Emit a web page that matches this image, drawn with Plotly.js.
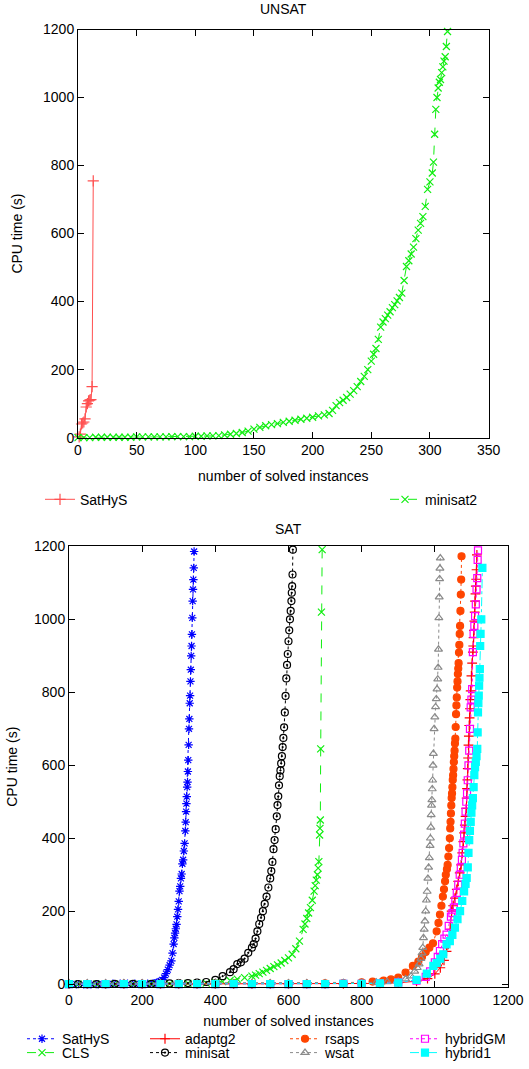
<!DOCTYPE html>
<html>
<head>
<meta charset="utf-8">
<script src="https://cdn.plot.ly/plotly-3.0.1.min.js"></script>
<style>
html,body{margin:0;padding:0;background:#fff;}
#chart{width:529px;height:1069px;}
</style>
</head>
<body>
<div id="chart"></div>
<script>
// ---------- UNSAT (top chart) ----------
var unsatSathysX = [1,2,3,4,5,6,7,8,9,10,11,12,13];
var unsatSathysY = [2,10,40,43,46,55,90,100,108,110,112,150,755];

var unsatMinisat2X = [
  0,5,10,15,20,25,30,35,40,45,
  50,55,60,65,70,75,80,85,90,95,
  100,105,110,115,120,125,130,135,140,145,
  150,155,160,165,170,175,180,185,190,195,
  200,205,210,214,217,220,223,226,229,232,
  235,238,241,244,247,250,252,254,256,258,
  260,262,264,266,268,270,272,274,276,278,
  280,282,284,286,288,290,292,294,296,298,
  300,302,303,304,305,306,307,308,309,310,
  311,312,313,314,315];
var unsatMinisat2Y = [
  0,0,0,1,1,1,1,1,1,1,
  2,2,2,2,2,2,3,3,3,3,
  4,4,5,5,6,8,10,12,15,19,
  25,30,35,38,41,45,48,51,54,57,
  60,64,67,71,80,94,103,110,118,128,
  138,150,165,180,200,225,245,262,289,325,
  340,350,360,370,382,391,402,412,425,462,
  503,520,540,560,585,610,630,650,680,730,
  752,778,810,892,965,1000,1028,1045,1053,1073,
  1090,1107,1120,1150,1194];

// ---------- SAT (bottom chart) ----------
var satSathysX = [
  0,20,40,60,80,100,120,140,160,180,
  200,215,230,235,240,245,250,255,260,265,
  270,275,280,283,286,288,290,292,294,296,
  298,300,302,304,306,308,310,312,314,316,
  318,319,320,321,322,323,324,325,326,327,
  328,329,330,331,332,333,334,335,336,337,
  338,339,340,341,342];
var satSathysY = [
  0,0,0,0,0,1,1,1,1,1,
  1,1,2,3,4,6,8,12,18,29,
  40,52,64,85,110,127,140,152,164,185,
  205,227,255,268,290,302,330,341,365,386,
  420,444,473,495,514,540,554,583,614,656,
  700,727,770,791,830,862,900,927,959,1004,
  1050,1082,1109,1141,1186];

var satClsX = [
  0,25,50,75,100,125,150,175,200,225,
  250,275,300,325,350,375,400,420,440,460,
  480,500,510,520,530,540,550,560,570,580,
  590,600,610,620,630,640,645,650,655,660,
  665,670,673,676,679,681,683,685,686,687,
  688,690,692];
var satClsY = [
  0,0,0,0,0,0,0,0,1,1,
  1,1,1,2,2,3,5,7,10,14,
  18,22,25,29,33,38,43,48,53,58,
  65,72,82,97,118,150,165,180,195,210,
  230,255,270,285,300,318,336,409,427,450,
  645,1020,1191];

var satAdaptg2X = [
  0,50,100,150,200,250,300,350,400,450,
  500,550,600,650,700,750,800,850,900,950,
  980,1000,1015,1025,1032,1037,1042,1046,1050,1055,
  1060,1064,1068,1072,1075,1078,1080,1082,1084,1086,
  1087,1088,1089,1090,1091,1092,1093,1094,1095,1096,
  1097,1098,1100,1102,1104,1105,1106,1107,1108,1109,
  1110,1111,1112,1113,1114,1115];
var satAdaptg2Y = [
  0,0,0,0,0,0,0,0,0,0,
  0,0,0,1,1,1,2,2,4,8,
  15,28,45,65,90,109,150,200,215,236,
  260,282,305,327,360,391,415,436,460,482,
  510,536,560,591,620,655,680,709,730,755,
  780,804,845,880,910,927,950,970,995,1020,
  1050,1070,1091,1110,1136,1177];

var satMinisatX = [
  0,25,50,75,100,125,150,175,200,225,
  250,275,300,325,350,375,400,420,440,450,
  460,470,480,490,500,505,510,515,520,525,
  530,535,540,545,550,553,556,559,562,565,
  568,570,572,574,576,578,580,582,584,586,
  588,590,592,594,596,598,600,602,604,606,
  608,609,610,611,612];
var satMinisatY = [
  0,0,0,0,0,1,1,1,1,1,
  2,2,3,3,4,6,12,22,33,41,
  55,60,70,86,100,110,125,145,165,182,
  200,220,240,265,290,310,335,370,395,425,
  460,491,515,545,570,586,605,625,650,675,
  704,745,790,838,875,905,940,970,1000,1023,
  1050,1073,1091,1123,1191];

var satRsapsX = [
  0,50,100,150,200,250,300,350,400,450,
  500,550,600,650,700,750,800,830,860,880,
  900,920,940,955,965,975,985,995,1005,1010,
  1014,1018,1022,1025,1028,1030,1033,1035,1037,1039,
  1041,1042,1043,1044,1045,1046,1047,1048,1049,1050,
  1051,1052,1053,1054,1055,1056,1057,1058,1059,1060,
  1061,1062,1063,1064,1065,1066,1067,1068,1069,1070,
  1071,1072,1073];
var satRsapsY = [
  0,0,0,0,0,0,0,0,0,0,
  0,1,1,1,2,3,5,7,10,13,
  18,32,50,62,75,88,100,112,145,168,
  191,215,240,260,282,300,315,327,350,373,
  400,427,445,468,490,510,523,540,560,573,
  590,609,625,640,660,673,705,740,764,786,
  813,830,850,865,880,909,930,960,982,1023,
  1068,1109,1173];

var satWsatX = [
  0,50,100,150,200,250,300,350,400,450,
  500,550,600,650,700,750,800,840,870,900,
  920,935,945,952,957,962,965,967,969,971,
  973,975,977,979,981,983,985,987,988,989,
  990,991,992,993,994,995,996,998,1000,1002,
  1004,1006,1008,1009,1010,1011,1012,1013,1014,1015];
var satWsatY = [
  3,3,3,3,3,3,3,3,3,3,
  3,3,3,3,3,4,4,5,6,8,
  14,22,35,45,55,70,85,100,127,150,
  173,200,230,254,290,320,346,380,400,430,
  464,490,505,535,559,600,632,700,732,760,
  782,809,836,868,918,1004,1061,1111,1140,1168];

var satHybridGMX = [
  0,50,100,150,200,250,300,350,400,450,
  500,550,600,650,700,750,800,850,900,950,
  975,987,1000,1008,1014,1020,1026,1032,1038,1044,
  1048,1052,1056,1060,1064,1068,1071,1074,1076,1078,
  1080,1082,1084,1086,1088,1090,1092,1094,1096,1098,
  1100,1102,1104,1106,1108,1110,1112,1114,1116,1117,
  1118];
var satHybridGMY = [
  0,0,0,0,0,0,0,0,0,0,
  0,0,0,0,0,1,1,2,5,10,
  20,35,60,75,91,110,125,136,160,185,
  195,210,230,250,273,300,320,341,360,386,
  410,440,473,500,523,559,600,640,700,759,
  780,809,910,960,982,1009,1041,1082,1113,1163,
  1189];

var satHybrid1X = [
  0,50,100,150,200,250,300,350,400,450,
  500,550,600,650,700,750,800,850,900,950,
  978,996,1005,1015,1023,1032,1041,1048,1055,1062,
  1069,1075,1080,1084,1087,1090,1092,1094,1096,1098,
  1100,1102,1104,1106,1108,1110,1112,1114,1116,1117,
  1118,1119,1120,1121,1122,1123,1124,1125,1127,1130];
var satHybrid1Y = [
  0,0,0,0,0,0,0,0,0,0,
  0,0,0,0,0,1,1,2,4,12,
  29,50,58,70,82,109,118,135,155,178,
  200,228,254,275,291,320,360,395,420,445,
  470,490,510,540,573,595,609,625,645,690,
  745,770,791,818,840,864,927,960,1000,1141];

var FONT = 'Liberation Sans, Arial, sans-serif';
var FS = 14;

function series(name, xs, ys, xa, ya, color, dash, symbol, size, legendId) {
  return {
    type: 'scatter', mode: 'lines+markers', name: name,
    x: xs, y: ys, xaxis: xa, yaxis: ya,
    line: {color: color, width: 1, dash: dash},
    marker: {symbol: symbol, size: size, color: color, line: {color: color, width: 1.2}},
    cliponaxis: false,
    legend: legendId, showlegend: true, hoverinfo: 'skip'
  };
}

var traces = [
  series('SatHyS', unsatSathysX, unsatSathysY, 'x', 'y', 'rgb(255,80,80)', 'solid', 'cross-thin-open', 8, 'legend'),
  series('minisat2', unsatMinisat2X, unsatMinisat2Y, 'x', 'y', '#11ee11', 'dash', 'x-thin-open', 7, 'legend2'),

  series('SatHyS', satSathysX, satSathysY, 'x2', 'y2', '#0000ff', 'dot', 'asterisk-open', 7, 'legend3'),
  series('CLS', satClsX, satClsY, 'x2', 'y2', '#11ee11', 'dash', 'x-thin-open', 7, 'legend4'),
  series('adaptg2', satAdaptg2X, satAdaptg2Y, 'x2', 'y2', '#ff0000', 'solid', 'cross-thin-open', 7, 'legend5'),
  series('minisat', satMinisatX, satMinisatY, 'x2', 'y2', '#000000', 'dot', 'circle-open-dot', 7, 'legend6'),
  series('rsaps', satRsapsX, satRsapsY, 'x2', 'y2', '#ff4500', 'dot', 'circle', 7, 'legend7'),
  series('wsat', satWsatX, satWsatY, 'x2', 'y2', '#8a8a8a', 'dot', 'triangle-up-open', 7, 'legend8'),
  series('hybridGM', satHybridGMX, satHybridGMY, 'x2', 'y2', '#ff00ff', 'dot', 'square-open', 7, 'legend9'),
  series('hybrid1', satHybrid1X, satHybrid1Y, 'x2', 'y2', '#00ffff', 'dashdot', 'square', 7, 'legend10')
];

function ax(domain, range, dtick, anchor, title, standoff) {
  return {
    domain: domain, range: range, dtick: dtick, tick0: 0, anchor: anchor,
    ticks: 'inside', ticklen: 6, tickwidth: 1, tickcolor: '#000',
    mirror: 'allticks', showline: true, linecolor: '#000', linewidth: 1,
    showgrid: false, zeroline: false, fixedrange: true, automargin: false,
    tickfont: {family: FONT, size: FS, color: '#000'},
    title: {text: title, font: {family: FONT, size: FS, color: '#000'}, standoff: standoff}
  };
}

function leg(xpx, ypx) {
  return {
    x: xpx / 529, y: (1069 - ypx) / 1069, xanchor: 'left', yanchor: 'middle',
    orientation: 'v', bgcolor: 'rgba(0,0,0,0)', borderwidth: 0,
    font: {family: FONT, size: FS, color: '#000'}, itemwidth: 30
  };
}

var layout = {
  width: 529, height: 1069,
  margin: {l: 0, r: 0, t: 0, b: 0},
  paper_bgcolor: '#fff', plot_bgcolor: '#fff',
  font: {family: FONT, size: FS, color: '#000'},
  xaxis: ax([78/529, 488.6/529], [0, 350], 50, 'y', 'number of solved instances', 13),
  yaxis: ax([(1069-440.5)/1069, (1069-29.7)/1069], [0, 1200], 200, 'x', 'CPU time (s)', 17),
  xaxis2: ax([69/529, 508/529], [0, 1200], 200, 'y2', 'number of solved instances', 9),
  yaxis2: ax([(1069-993.6)/1069, (1069-550)/1069], [-8, 1200], 200, 'x2', 'CPU time (s)', 13),
  legend: leg(40, 503),
  legend2: leg(385, 503),
  legend3: leg(22, 1046),
  legend4: leg(22, 1060),
  legend5: leg(145, 1046),
  legend6: leg(145, 1060),
  legend7: leg(285, 1046),
  legend8: leg(285, 1060),
  legend9: leg(405, 1046),
  legend10: leg(405, 1060),
  annotations: [
    {text: 'UNSAT', xref: 'paper', yref: 'paper', x: 283/529, y: (1069-9)/1069,
     xanchor: 'center', yanchor: 'middle', showarrow: false, font: {family: FONT, size: FS, color: '#000'}},
    {text: 'SAT', xref: 'paper', yref: 'paper', x: 288.5/529, y: (1069-532)/1069,
     xanchor: 'center', yanchor: 'middle', showarrow: false, font: {family: FONT, size: FS, color: '#000'}}
  ]
};

Plotly.newPlot('chart', traces, layout, {staticPlot: true, displayModeBar: false});
</script>
</body>
</html>
